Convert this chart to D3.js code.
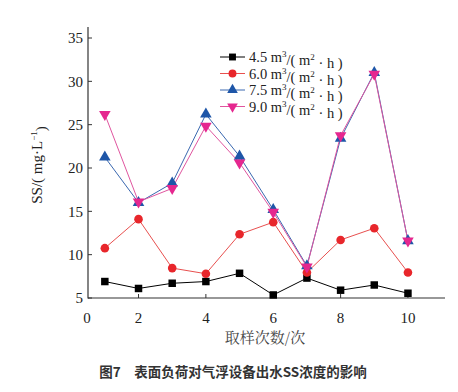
<!DOCTYPE html>
<html><head><meta charset="utf-8">
<script src="https://cdn.jsdelivr.net/npm/d3@7"></script>
<style>body{margin:0;background:#fff}svg{display:block}</style>
</head><body>
<svg id="c" width="458" height="392"></svg>
<script>
const xs = [1,2,3,4,5,6,7,8,9,10];
const s45 = [6.9,6.1,6.7,6.9,7.85,5.35,7.3,5.9,6.5,5.55];
const s60 = [10.75,14.1,8.45,7.8,12.35,13.75,7.95,11.7,13.05,7.95];
const s75 = [21.25,16.0,18.25,26.2,21.35,15.2,8.7,23.4,31.0,11.6];
const s90 = [26.2,16.1,17.65,24.85,20.6,14.9,8.6,23.75,30.85,11.6];
const seriesNames = ["4.5","6.0","7.5","9.0"];
const xTicks = [2,4,6,8,10];
const yTicks = [5,10,15,20,25,30,35];

const svg = d3.select("#c");
const x = d3.scaleLinear().domain([0.5,11.1]).range([88,445]);
const y = d3.scaleLinear().domain([5,35]).range([298,38]);
const serif = "'Liberation Serif','Times New Roman',serif";

const series = [
  {v:s45, color:"#000000", line:"#000000", sym:d3.symbolSquare, size:56},
  {v:s60, color:"#e8262b", line:"#e8504f", sym:d3.symbolCircle, size:58},
  {v:s75, color:"#1e56a8", line:"#3a68b0", sym:d3.symbolTriangle, size:58},
  {v:s90, color:"#e5278f", line:"#e0559f", sym:d3.symbolTriangle, size:58, rot:180}
];

// axes
const ax = svg.append("g");
ax.append("line").attr("x1",88).attr("x2",88).attr("y1",27).attr("y2",298.5).attr("stroke","#333").attr("stroke-width",1.2);
ax.append("line").attr("x1",88).attr("x2",445).attr("y1",298).attr("y2",298).attr("stroke","#333").attr("stroke-width",1.2);
yTicks.forEach(t=>{
  ax.append("line").attr("x1",88).attr("x2",92).attr("y1",y(t)).attr("y2",y(t)).attr("stroke","#333");
  ax.append("text").attr("x",83).attr("y",y(t)).attr("dy","0.35em").attr("text-anchor","end")
    .attr("font-family",serif).attr("font-size",15).attr("fill","#222").text(t);
});
xTicks.forEach(t=>{
  ax.append("line").attr("x1",x(t)).attr("x2",x(t)).attr("y1",298).attr("y2",294).attr("stroke","#333");
  ax.append("text").attr("x",x(t)).attr("y",318).attr("dy","0.35em").attr("text-anchor","middle")
    .attr("font-family",serif).attr("font-size",15).attr("fill","#222").text(t);
});
ax.append("text").attr("x",87).attr("y",318).attr("dy","0.35em").attr("text-anchor","middle")
  .attr("font-family",serif).attr("font-size",15).attr("fill","#222").text("0");

// lines and markers
const lineGen = d3.line().x((d,i)=>x(xs[i])).y(d=>y(d));
series.forEach(s=>{
  svg.append("path").attr("d",lineGen(s.v)).attr("fill","none").attr("stroke",s.line).attr("stroke-width",1);
});
series.forEach(s=>{
  svg.append("g").selectAll("path").data(s.v).join("path")
    .attr("d",d3.symbol().type(s.sym).size(s.size))
    .attr("transform",(d,i)=>`translate(${x(xs[i])},${y(d)})${s.rot?" rotate(180)":""}`)
    .attr("fill",s.color);
});

// legend
const lg = svg.append("g");
const rowY = [57,73.5,90,106.5];
series.forEach((s,i)=>{
  lg.append("line").attr("x1",220).attr("x2",245).attr("y1",rowY[i]).attr("y2",rowY[i]).attr("stroke",s.line).attr("stroke-width",1);
  lg.append("path").attr("d",d3.symbol().type(s.sym).size(s.size*0.85)())
    .attr("transform",`translate(232.5,${rowY[i]})${s.rot?" rotate(180)":""}`).attr("fill",s.color);
  const t = lg.append("text").attr("x",249).attr("y",rowY[i]).attr("dy","0.35em")
    .attr("font-family",serif).attr("font-size",14.5).attr("fill","#222");
  t.append("tspan").text(seriesNames[i]+" m");
  t.append("tspan").attr("font-size",9).attr("dy","-0.55em").text("3");
  t.append("tspan").attr("dy","0.55em").text("/( m");
  t.append("tspan").attr("font-size",9).attr("dy","-0.55em").text("2");
  t.append("tspan").attr("dy","0.55em").text(" · h )");
});

// axis titles
svg.append("text").attr("x",265).attr("y",338).attr("dy","0.35em").attr("text-anchor","middle")
  .attr("font-family","'Noto Serif CJK SC','Noto Sans CJK SC',serif").attr("font-size",15).attr("fill","#444").text("取样次数/次");
const yl = svg.append("text").attr("transform","translate(37,165) rotate(-90)").attr("text-anchor","middle")
  .attr("dy","0.35em").attr("font-family",serif).attr("font-size",15).attr("fill","#222");
yl.append("tspan").text("SS/( mg·L");
yl.append("tspan").attr("font-size",9).attr("dy","-0.6em").text("−1");
yl.append("tspan").attr("dy","0.6em").text(")");

svg.append("text").attr("x",233).attr("y",372).attr("dy","0.35em").attr("text-anchor","middle")
  .attr("font-family","'Noto Sans CJK SC',sans-serif").attr("font-weight","bold").attr("font-size",13.5).attr("fill","#333")
  .text("图7　表面负荷对气浮设备出水SS浓度的影响");
</script>
</body></html>
